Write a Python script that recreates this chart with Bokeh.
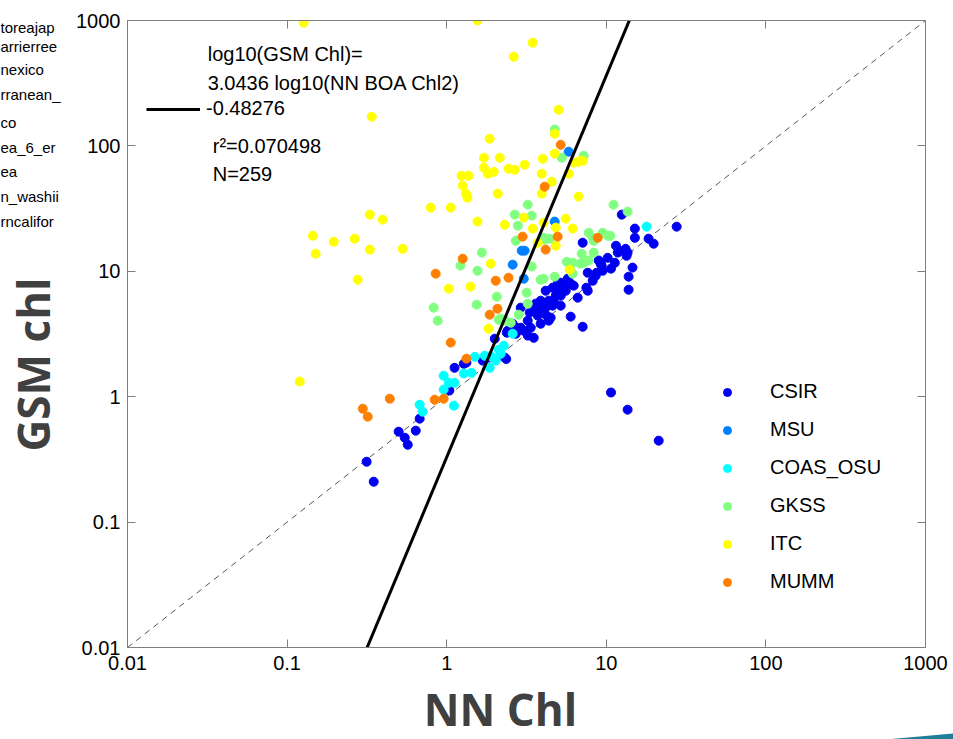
import math
from bokeh.plotting import figure
from bokeh.layouts import row, column
from bokeh.models import (FixedTicker, CustomJSTickFormatter, LogAxis, Label,
                          Legend, LegendItem)
from bokeh.embed import file_html
from bokeh.resources import INLINE

# ---------------- data ----------------
csir_x = [0.315, 0.349, 0.50, 0.546, 0.570, 0.64, 0.677, 1.04, 1.12, 1.28, 1.33, 1.68, 2.31, 2.0,
          2.38, 2.63, 2.79, 3.04, 3.22, 3.51, 3.36, 3.88, 4.36, 3.72, 3.88, 4.17, 3.61, 4.48,
          4.68, 4.82, 4.61, 4.96, 5.18, 5.41, 5.73, 5.98, 6.25, 5.03, 5.98, 7.11, 6.62, 7.65,
          7.5, 8.58, 9.49, 7.65, 8.7, 9.35, 8.96, 10.2, 11.8, 13.4, 13.6, 14.6, 13.8, 13.8,
          10.7, 13.6, 21.3, 27.6, 18.4, 19.8, 15.1, 15.1, 12.5, 13.2, 11.5, 12.1, 9.22, 7.11,
          2.91, 2.59, 2.41, 4.17, 5.57, 4.36, 5.18, 3.31, 3.22, 2.91, 2.71, 3.72, 5.18, 8.22,
          10.7, 11.3, 3.88, 3.61, 4.61, 4.23, 2.36, 1.83, 5.73]
csir_y = [0.303, 0.210, 0.526, 0.471, 0.414, 0.536, 0.668, 1.12, 1.70, 1.83, 1.87, 1.94, 2.05, 2.90,
          3.24, 3.68, 3.49, 3.36, 3.07, 2.95, 3.55, 3.82, 4.04, 4.68, 5.03, 5.13, 5.52, 4.27,
          5.83, 6.39, 7.40, 7.96, 8.11, 7.68, 8.41, 7.96, 7.68, 6.75, 4.35, 3.61, 6.16, 7.0,
          7.4, 9.22, 10.1, 9.74, 9.74, 11.1, 12.2, 12.8, 14.1, 13.3, 14.1, 10.7, 9.06, 7.13,
          1.08, 0.788, 0.446, 22.7, 18.2, 16.6, 21.9, 18.5, 28.3, 15.1, 16.0, 14.6, 11.5, 16.9,
          5.13, 3.82, 3.36, 7.0, 7.0, 5.83, 5.32, 4.68, 4.04, 3.55, 3.18, 4.43, 6.39, 8.41,
          10.5, 11.7, 5.83, 5.03, 5.32, 4.43, 2.0, 2.05, 8.73]

msu_x = [5.81, 4.75, 2.95, 2.59, 3.04, 3.08]
msu_y = [89.9, 24.9, 14.6, 11.3, 8.73, 14.6]

coas_x = [0.677, 0.707, 1.11, 0.957, 1.03, 1.12, 0.957, 1.28, 1.43, 1.50, 1.73, 1.86, 2.03,
          2.18, 2.28, 2.59, 17.9, 1.91, 2.12]
coas_y = [0.863, 0.759, 0.848, 1.14, 1.29, 1.29, 1.47, 1.53, 1.55, 2.08, 2.12, 1.70, 1.94,
          2.20, 2.55, 3.18, 22.7, 2.08, 2.37]

gkss_x = [1.66, 1.22, 1.56, 2.06, 1.54, 0.829, 0.878, 2.12, 3.22, 2.67, 3.41, 2.79, 2.71, 4.11,
          4.42, 3.41, 3.88, 4.05, 4.75, 5.98, 6.16, 5.65, 7.01, 7.22, 7.76, 8.34, 7.76, 8.34,
          9.49, 10.2, 10.6, 11.1, 13.6, 4.75, 5.26, 7.22, 3.17, 3.22, 2.83, 2.52, 2.18, 6.16,
          8.22, 4.05, 6.87, 2.34]
gkss_y = [14.1, 11.1, 10.1, 6.27, 5.42, 5.13, 4.04, 4.11, 34.0, 28.3, 27.8, 23.1, 17.5, 17.9,
          18.2, 10.9, 8.57, 8.73, 9.06, 10.1, 11.7, 11.9, 13.8, 11.7, 12.2, 14.1, 20.3, 17.5,
          20.3, 19.2, 19.2, 34.0, 29.9, 135, 80.5, 83.5, 6.75, 5.52, 4.51, 3.89, 4.19, 9.57,
          18.5, 18.5, 11.5, 4.04]

itc_x = [0.127, 1.56, 3.46, 2.63, 0.339, 5.03, 4.75, 1.86, 1.71, 2.15, 1.71, 1.81, 1.97, 2.44,
         2.67, 3.08, 1.24, 1.37, 1.26, 1.32, 1.35, 1.06, 2.09, 1.56, 0.33, 0.397, 0.145, 0.196,
         0.265, 0.151, 0.33, 0.53, 0.277, 0.12, 0.794, 4.0, 4.75, 3.94, 4.55, 3.94, 5.81, 6.71,
         6.25, 7.1, 6.71, 2.31, 3.04, 3.46, 5.57, 6.16, 4.82, 4.05, 4.82, 3.72, 5.9, 1.89, 1.03,
         1.41, 1.83]
itc_y = [960, 1000, 665, 514, 171, 194, 125, 114, 80.5, 80.5, 67.0, 60.0, 62.2, 65.8,
         64.6, 70.8, 57.8, 57.8, 48.2, 41.6, 38.6, 32.2, 41.6, 24.9, 28.3, 25.8, 19.2, 17.2,
         18.2, 13.8, 14.9, 15.1, 8.57, 1.32, 32.2, 79.0, 86.7, 60.0, 51.8, 41.6, 60.0, 74.8,
         73.5, 76.2, 39.4, 23.5, 26.8, 21.9, 26.3, 21.9, 22.3, 24.4, 16.0, 16.9, 10.3, 11.5, 7.27,
         7.54, 3.49]

mumm_x = [1.06, 1.33, 0.44, 0.298, 0.32, 0.841, 0.957, 1.26, 0.853, 2.03, 2.08, 1.86, 2.44,
          2.99, 4.17, 4.96, 8.83, 5.18, 4.11]
mumm_y = [2.70, 2.01, 0.964, 0.802, 0.693, 0.946, 0.964, 12.6, 9.57, 8.41, 5.03, 4.51, 8.89,
          18.9, 14.9, 18.9, 18.5, 102, 47.3]

groups = ["CSIR", "MSU", "COAS_OSU", "GKSS", "ITC", "MUMM"]
group_colors = ["#0000F0", "#0080FF", "#00FFFF", "#80FF80", "#FFFF00", "#FF8000"]

fit_slope = 3.0436
fit_intercept = -0.48276
fit_r2 = 0.070498
n_points = 259

axis_ticks = [0.01, 0.1, 1, 10, 100, 1000]

side_legend_texts = ["toreajap", "arrierree", "nexico", "rranean_", "co", "ea_6_er", "ea",
                     "n_washii", "rncalifor"]

x_title = "NN Chl"
y_title = "GSM chl"

W, H = 953, 739
SIDE_W = 65
MAIN_H = 678
STRIP_H = H - MAIN_H
MAIN_W = W - SIDE_W

# ---------------- main figure ----------------
p = figure(width=MAIN_W, height=MAIN_H, x_axis_type="log", y_axis_type="log",
           x_range=(0.01, 1000), y_range=(0.01, 1000),
           output_backend="svg", toolbar_location=None,
           min_border_left=62, min_border_right=28, min_border_top=20, min_border_bottom=31)
p.grid.visible = False
p.outline_line_color = "#7f7f7f"

AX = "#7f7f7f"
fmt = CustomJSTickFormatter(code="return tick.toString();")
for ax in (p.xaxis[0], p.yaxis[0]):
    ax.ticker = FixedTicker(ticks=axis_ticks, minor_ticks=[])
    ax.formatter = fmt
    ax.major_tick_in = 8
    ax.major_tick_out = 0
    ax.minor_tick_line_color = None
    ax.axis_line_color = AX
    ax.major_tick_line_color = AX
    ax.major_label_text_font = "Liberation Sans"
    ax.major_label_text_font_size = "20px"
    ax.major_label_text_color = "black"
p.xaxis.major_label_standoff = 8
p.yaxis.major_label_standoff = 7

for place in ("above", "right"):
    extra = LogAxis(ticker=FixedTicker(ticks=axis_ticks, minor_ticks=[]),
                    formatter=CustomJSTickFormatter(code="return '';"),
                    major_tick_in=8, major_tick_out=0, minor_tick_line_color=None,
                    axis_line_color=AX, major_tick_line_color=AX,
                    major_label_text_font_size="1px", major_label_standoff=0)
    p.add_layout(extra, place)

# 1:1 line
p.line(x=[axis_ticks[0], axis_ticks[-1]], y=[axis_ticks[0], axis_ticks[-1]],
       line_color="#555555", line_width=1, line_dash="6 5")

# scatter groups
data = [(csir_x, csir_y), (msu_x, msu_y), (coas_x, coas_y), (gkss_x, gkss_y),
        (itc_x, itc_y), (mumm_x, mumm_y)]
renderers = []
for (gx, gy), name, col in zip(data, groups, group_colors):
    r = p.scatter(x=gx, y=gy, size=9, marker="circle", fill_color=col, line_color=col)
    renderers.append(r)

# regression line
fx = [axis_ticks[0], axis_ticks[-1]]
fy = [10 ** (fit_slope * math.log10(v) + fit_intercept) for v in fx]
reg = p.line(x=fx, y=fy, line_color="black", line_width=3)

legend = Legend(items=[LegendItem(label=n, renderers=[r]) for n, r in zip(groups, renderers)],
                location=(585, 49), glyph_width=20, glyph_height=20, label_height=20,
                spacing=15, padding=5, margin=0, label_standoff=33,
                label_text_font="Liberation Sans", label_text_font_size="20px",
                label_text_color="black",
                border_line_alpha=0, background_fill_alpha=0)
p.add_layout(legend)

fit_legend = Legend(items=[LegendItem(label="%.5f" % fit_intercept, renderers=[reg])],
                    location=(19, 527), glyph_width=54, glyph_height=20, label_height=20,
                    padding=0, margin=0, label_standoff=6,
                    label_text_font="Liberation Sans", label_text_font_size="20px",
                    label_text_color="black",
                    border_line_alpha=0, background_fill_alpha=0)
p.add_layout(fit_legend)

def add_label(fig, x, y, text, **kw):
    opts = dict(text_font="Liberation Sans", text_font_size="20px", text_color="black",
                text_baseline="middle", text_align="left")
    opts.update(kw)
    fig.add_layout(Label(x=x, y=y, text=text, **opts))

add_label(p, 0.0318, 543, "log10(GSM Chl)=")
add_label(p, 0.0318, 319, "%.4f log10(NN BOA Chl2)" % fit_slope)
add_label(p, 0.0342, 100.4, "r\u00b2=%.6f" % fit_r2)
add_label(p, 0.0342, 60.0, "N=%d" % n_points)

# ---------------- side strip (clipped legend of another chart + y title) ----------------
side = figure(width=SIDE_W, height=MAIN_H, x_range=(0, SIDE_W), y_range=(MAIN_H, 0),
              output_backend="svg", toolbar_location=None, min_border=0,
              x_axis_location=None, y_axis_location=None)
side.grid.visible = False
side.outline_line_color = None
side_y = [8, 28, 53, 80, 110, 137, 163, 190, 217]
for t, yy in zip(side_legend_texts, side_y):
    add_label(side, 0, yy, t, text_font_size="15px")
add_label(side, 32, 372, y_title, text_font="Open Sans", text_font_style="bold",
          text_font_size="44px", text_color="#404040", text_align="center",
          angle=math.pi / 2)

# ---------------- bottom strip (x title) ----------------
strip = figure(width=W, height=STRIP_H, x_range=(0, W), y_range=(STRIP_H, 0),
               output_backend="svg", toolbar_location=None, min_border=0,
               x_axis_location=None, y_axis_location=None)
strip.grid.visible = False
strip.outline_line_color = None
add_label(strip, 500, STRIP_H / 2, x_title, text_font="Open Sans", text_font_style="bold",
          text_font_size="44px", text_color="#404040", text_align="center")
# small decorative teal swoosh seen at the bottom-right corner of the slide
strip.patch(x=[885, 953, 953], y=[STRIP_H, STRIP_H - 6, STRIP_H], fill_color="#1f7f99",
            line_color=None)

layout = column(row(side, p, spacing=0), strip, spacing=0)
open("out.html", "w").write(file_html(layout, INLINE))
